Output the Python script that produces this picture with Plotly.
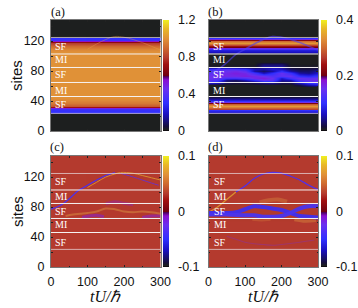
import plotly.graph_objects as go

W, H = 358, 308
SCALE = [[0, "#050008"], [0.012, "#1e2020"], [0.04, "#16103c"], [0.15, "#1a10c0"], [0.25, "#3030ff"],
         [0.38, "#6a30f0"], [0.46, "#8a10d0"], [0.49, "#500060"], [0.5, "#700010"], [0.6, "#a01010"],
         [0.66, "#b43a2e"], [0.75, "#cf6a30"], [0.83, "#e09038"], [0.92, "#e8b828"], [1, "#f0f020"]]

TIME_ENDS = [0, 300]
BAND_LINES_INNER = [102.7, 84.7, 64.7, 46]
BAND_LINES_OUTER = [124.7, 23.5]
LABEL_TEXT = ["SF", "MI", "SF", "MI", "SF"]
LABEL_SITES_TOP = [113, 95, 75, 54, 35]
LABEL_SITES_BOTTOM = [114, 94, 74, 56, 33]

# panel (a)
A_SITES = [-5, 23, 25, 29, 30.5, 32, 34, 37, 41, 46, 106, 110, 114, 117, 119, 120.5, 122, 124, 125.5, 155]
A_VALUES = [0.014, 0.014, 0.3, 0.33, 0.5, 0.72, 0.86, 0.94, 0.98, 1.0, 1.0, 0.97, 0.9, 0.8, 0.68, 0.55, 0.33, 0.3, 0.014, 0.014]

# panel (b)
B_SITES = [-5, 23, 25, 28, 30, 33, 36, 38, 40, 43, 45, 47, 103, 106, 108, 110, 113, 117, 120, 122, 123.5, 125.5, 155]
B_VALUES = [0.005, 0.005, 0.07, 0.1, 0.27, 0.34, 0.29, 0.21, 0.1, 0.05, 0.02, 0.005, 0.005, 0.06, 0.08, 0.12, 0.24, 0.34, 0.3, 0.22, 0.1, 0.005, 0.005]
B_MID_TIME = [0, 25, 50, 75, 100, 125, 150, 175, 200, 225, 250, 275, 300]
B_MID_SITES = [59, 62, 65, 68, 71, 74, 77, 80, 83, 86, 89, 92]
B_MID_VALUES = [
    [.005, .005, .005, .005, .005, .005, .005, .005, .005, .005, .005, .005, .005],
    [.005, .005, .005, .005, .005, .005, .005, .005, .005, .005, .02, .05, .07],
    [.10, .08, .03, .02, .02, .03, .05, .06, .03, .03, .08, .12, .14],
    [.14, .12, .04, .03, .06, .10, .15, .14, .05, .06, .13, .15, .16],
    [.15, .15, .12, .12, .13, .16, .17, .15, .07, .12, .15, .14, .15],
    [.15, .16, .16, .16, .17, .16, .15, .13, .14, .15, .10, .09, .11],
    [.14, .15, .16, .17, .16, .12, .06, .10, .15, .11, .05, .04, .07],
    [.13, .14, .15, .16, .14, .05, .03, .05, .10, .05, .03, .03, .05],
    [.10, .12, .13, .12, .10, .06, .05, .07, .06, .03, .02, .02, .03],
    [.01, .01, .01, .01, .01, .01, .05, .05, .05, .01, .01, .01, .01],
    [.005, .005, .005, .005, .005, .005, .03, .03, .03, .005, .005, .005, .005],
    [.005, .005, .005, .005, .005, .005, .005, .005, .005, .005, .005, .005, .005],
]

# panel (c), (d) background
C_SITES = [-5, 155]
C_VALUES = [0.032, 0.032]

# wave-front paths
FRONT_T = [0, 25, 50, 75, 100, 125, 150, 175, 200, 225, 250, 275, 300]
FRONT_S = [77, 82, 91, 102, 109, 116, 122, 126, 125, 122, 118, 113, 108]
C_OUT_T = [100, 125, 150, 175, 190, 225, 250, 275, 300]
C_OUT_S = [106, 113, 120, 124, 126, 125, 122, 119, 116]
C_IN_T = [190, 205, 225, 250, 275, 295]
C_IN_S = [125, 123, 120, 116, 112, 109]
C_RIB_T = [40, 60, 80, 100, 125, 150, 175, 200, 225, 250, 275, 300]
C_RIB_S = [68, 70, 71, 72, 74, 78, 77, 74, 73, 74, 73, 71]
C_BLOB1_T = [85, 105, 125, 145]
C_BLOB1_S = [66, 68, 69, 67]
C_BLOB2_T = [150, 175, 200, 225]
C_BLOB2_S = [84, 87, 85, 83]
C_BLOB3_T = [250, 275, 300]
C_BLOB3_S = [66, 68, 68]
D_ORANGE_T = [0, 25, 50, 75]
D_ORANGE_S = [73, 80, 90, 100]
D_BLUE_T = [75, 100, 125, 150, 175, 200, 225, 250, 275, 300]
D_BLUE_S = [100, 108, 118, 124, 126, 125, 121, 116, 109, 103]
D_BRAID1_T = [0, 50, 75, 100, 125, 150, 175, 200, 225, 250, 275, 300]
D_BRAID1_S = [72, 72, 73, 77, 81, 80, 78, 76, 72, 68, 67, 66]
D_BRAID2_T = [0, 50, 100, 125, 150, 175, 200, 225, 250, 275, 300]
D_BRAID2_S = [70, 70, 69, 69, 67, 67, 68, 72, 78, 81, 81]
D_FAINT_T = [50, 75, 100, 125, 150, 175, 200, 250, 290]
D_FAINT_S = [41, 37, 33, 31, 30, 29, 30, 33, 36]
D_GLOW1_T = [140, 165, 190, 215]
D_GLOW1_S = [86, 89, 90, 87]
D_GLOW2_T = [235, 265, 295]
D_GLOW2_S = [63, 61, 62]
D_GLOW3_T = [120, 145, 170]
D_GLOW3_S = [63, 62, 63]

X_L = [51, 208.5]
PW = 109.5
Y_T = [20, 156]
PH = 111
CB_X = [163, 320.5]

TICK_TOP_A = [0, 0.4, 0.8, 1.2]
TICK_TOP_B = [0, 0.2, 0.4]
TICK_BOT = [-0.1, 0, 0.1]

fig = go.Figure()
sub = {"a": ("x", "y"), "b": ("x2", "y2"), "c": ("x3", "y3"), "d": ("x4", "y4")}

def base(panel, sites, vals, zmin, zmax, ticks, labels, cbx, ytop):
    xa, ya = sub[panel]
    fig.add_trace(go.Heatmap(
        x=TIME_ENDS, y=sites, z=[[v, v] for v in vals], xaxis=xa, yaxis=ya,
        zmin=zmin, zmax=zmax, colorscale=SCALE, zsmooth="best", hoverinfo="skip",
        colorbar=dict(x=cbx / W, xanchor="left", y=1 - ytop / H, yanchor="top",
                      len=PH / H, lenmode="fraction", thickness=6, thicknessmode="pixels",
                      xpad=0, ypad=0, outlinewidth=0, ticks="outside", ticklen=7, tickcolor="rgba(0,0,0,0)",
                      tickvals=ticks, ticktext=labels,
                      tickfont=dict(family="Liberation Sans", size=12.5, color="#111"))))

def path(panel, t, s, color, width, opacity=1.0):
    xa, ya = sub[panel]
    fig.add_trace(go.Scatter(x=t, y=s, xaxis=xa, yaxis=ya, mode="lines", hoverinfo="skip", showlegend=False,
                             opacity=opacity, line=dict(color=color, width=width, shape="spline")))

base("a", A_SITES, A_VALUES, 0, 1.2, TICK_TOP_A, ["0", "0.4", "0.8", "1.2"], CB_X[0], Y_T[0])
base("b", B_SITES, B_VALUES, 0, 0.4, TICK_TOP_B, ["0", "0.2", "0.4"], CB_X[1], Y_T[0])
base("c", C_SITES, C_VALUES, -0.1, 0.1, TICK_BOT, ["-0.1", "0", "0.1"], CB_X[0], Y_T[1])
base("d", C_SITES, C_VALUES, -0.1, 0.1, TICK_BOT, ["-0.1", "0", "0.1"], CB_X[1], Y_T[1])

fig.add_trace(go.Heatmap(x=B_MID_TIME, y=B_MID_SITES, z=B_MID_VALUES, xaxis="x2", yaxis="y2", zmin=0, zmax=0.4,
                         colorscale=SCALE, zsmooth="best", showscale=False, hoverinfo="skip"))

path("a", FRONT_T[4:], FRONT_S[4:], "#e8a048", 1, 0.4)
path("b", FRONT_T, FRONT_S, "#5040f0", 1.5, 0.6)

path("c", C_BLOB1_T, C_BLOB1_S, "#8a20c8", 3, 0.6)
path("c", C_BLOB2_T, C_BLOB2_S, "#8a20c8", 3, 0.4)
path("c", C_BLOB3_T, C_BLOB3_S, "#8a20c8", 3, 0.6)
path("c", C_RIB_T, C_RIB_S, "#d88a40", 2, 0.55)
path("c", C_OUT_T, C_OUT_S, "#e0a030", 1, 0.8)
path("c", C_IN_T, C_IN_S, "#6030e0", 1, 0.8)
path("c", FRONT_T[:8], FRONT_S[:8], "#4a30f0", 1.2)

path("d", D_GLOW1_T, D_GLOW1_S, "#d88a40", 4, 0.4)
path("d", D_GLOW2_T, D_GLOW2_S, "#d88a40", 3, 0.45)
path("d", D_GLOW3_T, D_GLOW3_S, "#d88a40", 2, 0.3)
path("d", D_ORANGE_T, D_ORANGE_S, "#e0a030", 1.3, 0.85)
path("d", D_BLUE_T, D_BLUE_S, "#5030e8", 1.3)
path("d", D_FAINT_T, D_FAINT_S, "#8030c0", 1.2, 0.4)
path("d", D_BRAID1_T, D_BRAID1_S, "#4030f0", 4, 0.95)
path("d", D_BRAID2_T, D_BRAID2_S, "#4a34f0", 4, 0.95)

layout = dict(width=W, height=H, autosize=False, margin=dict(l=0, r=0, t=0, b=0, pad=0, autoexpand=False),
              paper_bgcolor="white", plot_bgcolor="white", showlegend=False,
              font=dict(family="Liberation Sans", color="#111"))
for i, name in enumerate(["", "2", "3", "4"]):
    col, row = i % 2, i // 2
    layout["xaxis" + name] = dict(
        domain=[X_L[col] / W, (X_L[col] + PW) / W], range=[0, 300], anchor="y" + name,
        tickvals=[0, 100, 200, 300], ticks="inside", ticklen=2, tickcolor="#222", mirror="ticks",
        showticklabels=row == 1, showgrid=False, zeroline=False, showline=True, linecolor="#777", linewidth=1,
        minor=dict(dtick=50, ticks="inside", ticklen=1.5, tickcolor="#222"), ticklabelstandoff=3,
        tickfont=dict(family="Liberation Sans", size=12.5, color="#111"))
    layout["yaxis" + name] = dict(
        domain=[1 - (Y_T[row] + PH) / H, 1 - Y_T[row] / H], range=[0, 148], anchor="x" + name,
        tickvals=[0, 40, 80, 120], ticks="inside", ticklen=2, tickcolor="#222", mirror="ticks",
        showticklabels=col == 0, showgrid=False, zeroline=False, showline=True, linecolor="#777", linewidth=1,
        minor=dict(dtick=20, ticks="inside", ticklen=1.5, tickcolor="#222"), ticklabelstandoff=3,
        tickfont=dict(family="Liberation Sans", size=12.5, color="#111"))
fig.update_layout(**layout)

for i, name in enumerate(["", "2", "3", "4"]):
    for s in BAND_LINES_INNER:
        fig.add_shape(type="line", xref="x" + name, yref="y" + name, x0=0, x1=300, y0=s, y1=s,
                      line=dict(color="#f6f2f2", width=1), layer="above")
    for s in BAND_LINES_OUTER:
        fig.add_shape(type="line", xref="x" + name, yref="y" + name, x0=0, x1=300, y0=s, y1=s,
                      line=dict(color="rgba(235,225,230,0.7)", width=1), layer="above")
    sites = LABEL_SITES_TOP if i < 2 else LABEL_SITES_BOTTOM
    for txt, s in zip(LABEL_TEXT, sites):
        fig.add_annotation(x=6 if i != 3 else 10, y=s, xref="x" + name, yref="y" + name, text=txt, showarrow=False,
                           xanchor="left", yanchor="middle", font=dict(family="Liberation Serif", size=10, color="white"))

for txt, px, py in [("(a)", 49, 12), ("(b)", 206, 12), ("(c)", 48, 147), ("(d)", 206, 147)]:
    fig.add_annotation(x=px / W, y=1 - py / H, xref="paper", yref="paper", text=txt, showarrow=False,
                       xanchor="left", yanchor="middle", font=dict(family="Liberation Serif", size=12.5, color="#111"))

for py in [76, 212]:
    fig.add_annotation(x=17 / W, y=1 - py / H, xref="paper", yref="paper", text="sites", showarrow=False, textangle=-90,
                       xanchor="center", yanchor="middle", font=dict(family="Liberation Sans", size=15, color="#111"))
for px in [105, 263]:
    fig.add_annotation(x=px / W, y=1 - 296 / H, xref="paper", yref="paper", text="<i>tU/ℏ</i>", showarrow=False,
                       xanchor="center", yanchor="middle", font=dict(family="Liberation Serif", size=16, color="#111"))

fig.write_html("out.html", post_script="document.body.style.margin='0';", config={"displayModeBar": False})
